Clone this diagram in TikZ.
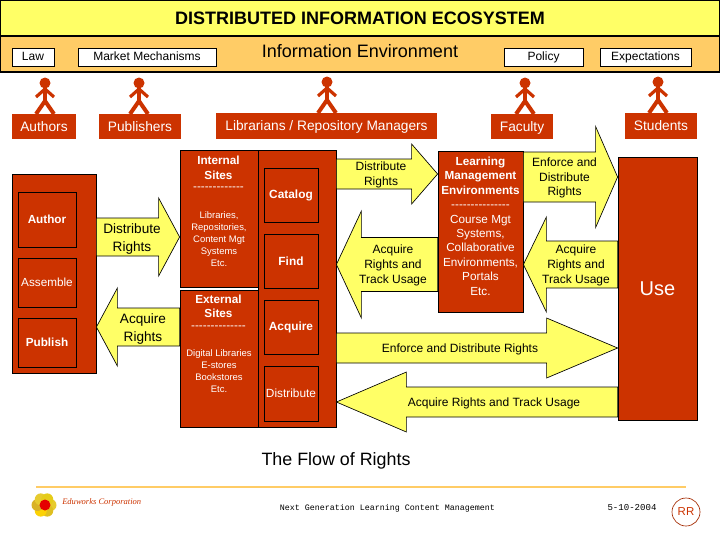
\documentclass[tikz,border=0pt]{standalone}
\usepackage{fontspec}
\setmainfont{Liberation Sans}
\newfontfamily\footfont{Liberation Mono}
\newfontfamily\logofont{Liberation Serif}
\usepackage{xcolor}
\usetikzlibrary{calc}
\definecolor{brick}{HTML}{CC3300}
\definecolor{paleyellow}{HTML}{FFFF66}
\definecolor{sand}{HTML}{FFCC66}

\tikzset{
  sized/.style 2 args={minimum width=#1*0.75pt, minimum height=#2*0.75pt, inner sep=0pt},
  type/.style 2 args={font=\fontsize{#1}{#2}\selectfont},
  boldtype/.style 2 args={font=\fontsize{#1}{#2}\selectfont\bfseries}
}

% block arrow: name, tail, tip, y, head length (signed), half shaft, half head
\newcommand{\flowarrow}[7]{
  \coordinate (#1tail) at (#2 |- 0,#4);
  \coordinate (#1tip) at (#3 |- 0,#4);
  \coordinate (#1base) at ($(#1tip)+(#5,0)$);
  \draw[flow] ($(#1tail)+(0,-#6)$) -- ($(#1base)+(0,-#6)$) -- ($(#1base)+(0,-#7)$) -- (#1tip)
    -- ($(#1base)+(0,#7)$) -- ($(#1base)+(0,#6)$) -- ($(#1tail)+(0,#6)$) -- cycle;
}

\begin{document}
\begin{tikzpicture}[
  x=0.75pt, y=-0.75pt,
  band/.style={draw=black, line width=0.8pt},
  lawbox/.style={draw=black, fill=white, line width=0.6pt, type={9}{10}, text height=6.5pt, text depth=1pt},
  rolebox/.style={fill=brick, text=white, type={10.3}{12}, text height=8pt, text depth=1.2pt},
  redbox/.style={draw=black, fill=brick, line width=0.6pt, text=white},
  lab/.style={align=center, inner sep=0pt},
  whitelab/.style={lab, text=white},
  flow/.style={draw=black, fill=paleyellow, line width=0.5pt},
  person/.pic={
    \fill[brick] (0,-31) circle (5.5);
    \draw[brick, line width=3pt] (0,-27) -- (0,-12);
    \draw[brick, line width=2.4pt, line join=round] (-9,-17) -- (0,-25) -- (9,-17);
    \draw[brick, line width=3pt] (-9,0) -- (0,-13) -- (9,0);
  }
]
\useasboundingbox (0,0) rectangle (720,540);

% Top bands
\node[band, fill=paleyellow, sized={720}{36}] (titleband) at (360,18) {};
\node[band, fill=sand, sized={720}{36}] (infoband) at (360,54) {};
\node[lab, boldtype={13.5}{15}] (title) at (360,18.5) {DISTRIBUTED INFORMATION ECOSYSTEM};
\node[lab, type={13.5}{15}] (infotitle) at (360,51) {Information Environment};
\node[lawbox, sized={42}{18}] (law) at (33,57) {Law};
\node[lawbox, sized={138}{18}] (market) at (147,57) {Market Mechanisms};
\node[lawbox, sized={79}{18}] (policy) at (543.5,57) {Policy};
\node[lawbox, sized={91}{18}] (expect) at (645.5,57) {Expectations};

% Roles
\node[rolebox, sized={64}{25}] (authors) at (44,126.5) {Authors};
\node[rolebox, sized={82}{25}] (publishers) at (140,126.5) {Publishers};
\node[rolebox, sized={221}{26}] (librarians) at (326.5,125.5) {Librarians / Repository Managers};
\node[rolebox, sized={62}{25}] (faculty) at (522,126.5) {Faculty};
\node[rolebox, sized={72}{26}] (students) at (661,125.5) {Students};
\pic (authorfig) at (45,114) {person};
\pic (publisherfig) at (139,114) {person};
\pic (librarianfig) at (327,113) {person};
\pic (facultyfig) at (525,114) {person};
\pic (studentfig) at (658,113) {person};

% Left column
\node[redbox, sized={84}{199}] (left) at (54,273.5) {};
\node[redbox, sized={58}{55}, boldtype={8.8}{10}] (author) at (47,219.5) {Author};
\node[redbox, sized={58}{49}, type={8.8}{10}] (assemble) at (47,282.5) {Assemble};
\node[redbox, sized={58}{49}, boldtype={8.8}{10}] (publish) at (47,342.5) {Publish};

% Sites
\node[redbox, sized={78}{137}] (internal) at (219,218.5) {};
\node[redbox, sized={78}{137}] (external) at (219,358.5) {};
\node[redbox, sized={78}{277}] (tools) at (297,288.5) {};
\node[whitelab, boldtype={8.8}{10.8}] (internalhead) at (218.5,168) {Internal\\Sites};
\node[whitelab, type={8.8}{10}] (internaldash) at (218.5,189) {-{}-{}-{}-{}-{}-{}-{}-{}-{}-{}-{}-{}-};
\node[whitelab, type={7.1}{9}] (internaltext) at (219,239.5) {Libraries,\\Repositories,\\Content Mgt\\Systems\\Etc.};
\node[whitelab, boldtype={8.8}{10.8}] (externalhead) at (218.5,306) {External\\Sites};
\node[whitelab, type={8.8}{10}] (externaldash) at (218.5,328) {-{}-{}-{}-{}-{}-{}-{}-{}-{}-{}-{}-{}-{}-};
\node[whitelab, type={7.1}{9}] (externaltext) at (219,371) {Digital Libraries\\E-stores\\Bookstores\\Etc.};
\node[redbox, sized={54}{54}, boldtype={8.9}{10}] (catalog) at (291,195) {Catalog};
\node[redbox, sized={54}{54}, boldtype={8.9}{10}] (find) at (291,261) {Find};
\node[redbox, sized={54}{54}, boldtype={8.9}{10}] (acquire) at (291,327) {Acquire};
\node[redbox, sized={54}{55}, type={8.9}{10}] (distribute) at (291,393.5) {Distribute};

% Learning environments and use
\node[redbox, sized={85}{161}] (lme) at (480.5,231.5) {};
\node[whitelab, type={8.8}{10.8}] (lmetext) at (480.5,226) {\textbf{Learning}\\\textbf{Management}\\\textbf{Environments}\\-{}-{}-{}-{}-{}-{}-{}-{}-{}-{}-{}-{}-{}-{}-{}\\Course Mgt\\Systems,\\Collaborative\\Environments,\\Portals\\Etc.};
\node[redbox, sized={79}{263}, type={15}{18}] (use) at (657.5,288.5) {Use};

% Flow arrows
\flowarrow{leftout}{left.east}{internal.west}{237}{-21}{19}{39}
\flowarrow{leftin}{internal.west}{left.east}{327}{21}{19}{39}
\flowarrow{midout}{tools.east}{lme.west}{174}{-26}{15}{30}
\flowarrow{midin}{lme.west}{tools.east}{264.5}{25}{27}{53.5}
\flowarrow{lmeout}{lme.east}{use.west}{177}{-22}{25}{50.5}
\flowarrow{lmein}{use.west}{lme.east}{264.5}{23}{23.5}{47.5}
\flowarrow{longout}{tools.east}{use.west}{348}{-71}{15}{30}
\flowarrow{longin}{use.west}{tools.east}{402}{70}{15}{30}

\node[lab, type={10.2}{12.8}] (leftoutlab) at (132,239) {Distribute\\Rights};
\node[lab, type={10.2}{12.8}] (leftinlab) at (143,329) {Acquire\\Rights};
\node[lab, type={9}{11}] (midoutlab) at (381,175) {Distribute\\Rights};
\node[lab, type={9}{11}] (midinlab) at (393,265.5) {Acquire\\Rights and\\Track Usage};
\node[lab, type={9}{11}] (lmeoutlab) at (564.5,178) {Enforce and\\Distribute\\Rights};
\node[lab, type={9}{11}] (lmeinlab) at (576,265.5) {Acquire\\Rights and\\Track Usage};
\node[lab, type={9}{11}] (longoutlab) at (460,349) {Enforce and Distribute Rights};
\node[lab, type={9}{11}] (longinlab) at (494,403) {Acquire Rights and Track Usage};

% Footer
\node[lab, type={13.4}{15}] (flowtitle) at (336,460.5) {The Flow of Rights};
\coordinate (rulestart) at (36,487);
\coordinate (ruleend) at (686,487);
\draw[sand, line width=2.2pt] (rulestart) -- (ruleend);
\foreach \a/\c in {0/yellow!60!brown, 60/brown!50!yellow, 120/yellow!70!orange, 180/brown!60!yellow, 240/yellow!60!brown, 300/brown!40!yellow}
  \fill[\c] (44,505) ++(\a:6.5) circle (6);
\fill[red!90!black] (45,505) circle (5.5);
\node[lab, text=brick, anchor=west, font=\logofont\fontsize{6.4}{8}\selectfont\itshape] (company) at (62,502) {Eduworks Corporation};
\node[lab, font=\footfont\fontsize{6.25}{8}\selectfont] (course) at (387.5,508) {Next Generation Learning Content Management};
\node[lab, font=\footfont\fontsize{6.8}{8}\selectfont] (date) at (632,507) {5-10-2004};
\node[circle, draw=brick!80!black, line width=0.5pt, minimum size=21pt, inner sep=0pt, text=brick, type={8.6}{10}] (initials) at (686,512) {RR};
\end{tikzpicture}
\end{document}
